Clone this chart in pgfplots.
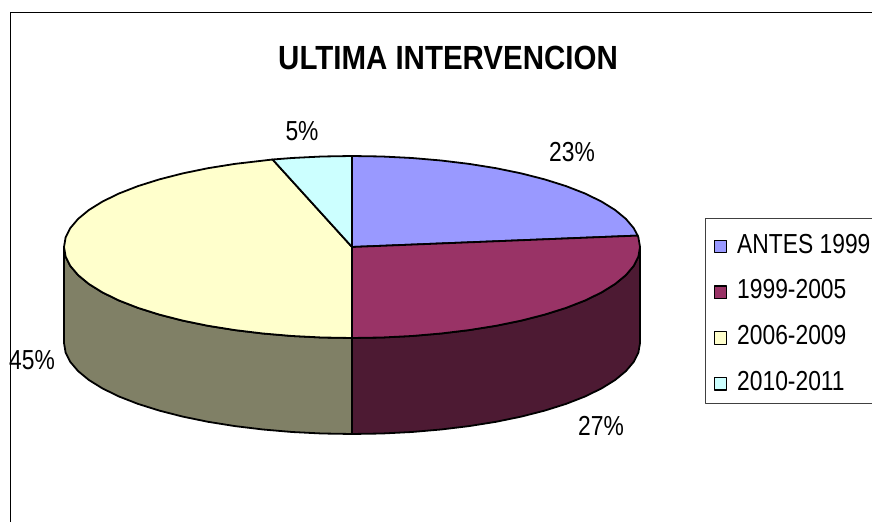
\documentclass[border=0pt]{standalone}
\usepackage{fontspec}
\setmainfont{Liberation Sans}
\usepackage{pgfplots}
\pgfplotsset{compat=1.18}
\definecolor{sliceA}{HTML}{9999FF}
\definecolor{sliceB}{HTML}{993366}
\definecolor{sliceC}{HTML}{FFFFCC}
\definecolor{sliceD}{HTML}{CCFFFF}
\definecolor{sideB}{HTML}{4D1A33}
\definecolor{sideC}{HTML}{808066}
\newcommand{\lab}[1]{\scalebox{.83}[1]{#1}}
\begin{document}
\begin{tikzpicture}
\path[use as bounding box] (0,0) rectangle (872pt,522pt);
\begin{axis}[
  scale only axis, width=872pt, height=522pt,
  xmin=-352, xmax=520, ymin=-275, ymax=247,
  hide axis,
  legend cell align=left,
  legend image code/.code={\draw[#1,draw=black,line width=1.2pt] (0.5pt,-8.5pt) rectangle (13pt,4pt);},
  legend style={at={(axis cs:361.5,15)}, anchor=north west, draw=none, fill=none, inner sep=0pt, outer sep=0pt,
    font={\fontsize{27.5}{28}\selectfont}, row sep=21pt,
    /tikz/every odd column/.append style={column sep=8pt}},
  every axis plot/.append style={line join=round},
]
% frame and legend box
\addplot[forget plot, black, line width=1pt] coordinates {(-342,-275) (-342,234) (520,234)};
\addplot[forget plot, black!75, line width=1pt] coordinates {(520,28) (353,28) (353,-157) (520,-157)};
% side walls
\addplot[forget plot, fill=sideB, draw=black, line width=1.8pt] coordinates {
(288,0)(286.4,-9.5)(281.7,-18.9)(273.9,-28.1)(263.1,-37)(249.4,-45.5)(233,-53.5)(214,-60.9)(192.7,-67.6)(169.3,-73.6)(144,-78.8)(117.1,-83.1)(89,-86.5)(59.9,-89)(30.1,-90.5)(0,-91)
(0,-187)(30.1,-186.5)(59.9,-185)(89,-182.5)(117.1,-179.1)(144,-174.8)(169.3,-169.6)(192.7,-163.6)(214,-156.9)(233,-149.5)(249.4,-141.5)(263.1,-133)(273.9,-124.1)(281.7,-114.9)(286.4,-105.5)(288,-96)(288,0)};
\addplot[forget plot, fill=sideC, draw=black, line width=1.8pt] coordinates {
(-288,0)(-286.4,-9.5)(-281.7,-18.9)(-273.9,-28.1)(-263.1,-37)(-249.4,-45.5)(-233,-53.5)(-214,-60.9)(-192.7,-67.6)(-169.3,-73.6)(-144,-78.8)(-117.1,-83.1)(-89,-86.5)(-59.9,-89)(-30.1,-90.5)(0,-91)
(0,-187)(-30.1,-186.5)(-59.9,-185)(-89,-182.5)(-117.1,-179.1)(-144,-174.8)(-169.3,-169.6)(-192.7,-163.6)(-214,-156.9)(-233,-149.5)(-249.4,-141.5)(-263.1,-133)(-273.9,-124.1)(-281.7,-114.9)(-286.4,-105.5)(-288,-96)(-288,0)};
% top face
\addplot[fill=sliceA, draw=black, line width=1.8pt] coordinates {
(0,0)(0,91)(30.1,90.5)(59.9,89)(89,86.5)(117.1,83.1)(144,78.8)(169.3,73.6)(192.7,67.6)(214,60.9)(233,53.5)(249.4,45.5)(263.1,37)(273.9,28.1)(281.7,18.9)(285.7,11.4)(0,0)};
\addlegendentry{\lab{ANTES 1999}}
\addplot[fill=sliceB, draw=black, line width=1.8pt] coordinates {
(0,0)(285.7,11.4)(286.4,9.5)(288,0)(286.4,-9.5)(281.7,-18.9)(273.9,-28.1)(263.1,-37)(249.4,-45.5)(233,-53.5)(214,-60.9)(192.7,-67.6)(169.3,-73.6)(144,-78.8)(117.1,-83.1)(89,-86.5)(59.9,-89)(30.1,-90.5)(0,-91)(0,0)};
\addlegendentry{\lab{1999-2005}}
\addplot[fill=sliceC, draw=black, line width=1.8pt] coordinates {
(0,0)(0,-91)(-30.1,-90.5)(-59.9,-89)(-89,-86.5)(-117.1,-83.1)(-144,-78.8)(-169.3,-73.6)(-192.7,-67.6)(-214,-60.9)(-233,-53.5)(-249.4,-45.5)(-263.1,-37)(-273.9,-28.1)(-281.7,-18.9)(-286.4,-9.5)(-288,0)(-286.4,9.5)(-281.7,18.9)(-273.9,28.1)(-263.1,37)(-249.4,45.5)(-233,53.5)(-214,60.9)(-192.7,67.6)(-169.3,73.6)(-144,78.8)(-117.1,83.1)(-79.4,87.5)(0,0)};
\addlegendentry{\lab{2006-2009}}
\addplot[fill=sliceD, draw=black, line width=1.8pt] coordinates {
(0,0)(-79.4,87.5)(-59.9,89)(-30.1,90.5)(0,91)(0,0)};
\addlegendentry{\lab{2010-2011}}
% texts
\node[font={\fontsize{33.5}{36}\selectfont\bfseries}] at (axis cs:96,189) {\scalebox{.88}[1]{ULTIMA INTERVENCION}};
\node[font={\fontsize{27.5}{30}\selectfont}] at (axis cs:-50,116) {\lab{5\%}};
\node[font={\fontsize{27.5}{30}\selectfont}] at (axis cs:220,95) {\lab{23\%}};
\node[font={\fontsize{27.5}{30}\selectfont}] at (axis cs:249,-179) {\lab{27\%}};
\node[font={\fontsize{27.5}{30}\selectfont}] at (axis cs:-320,-113) {\lab{45\%}};
\end{axis}
\end{tikzpicture}
\end{document}
